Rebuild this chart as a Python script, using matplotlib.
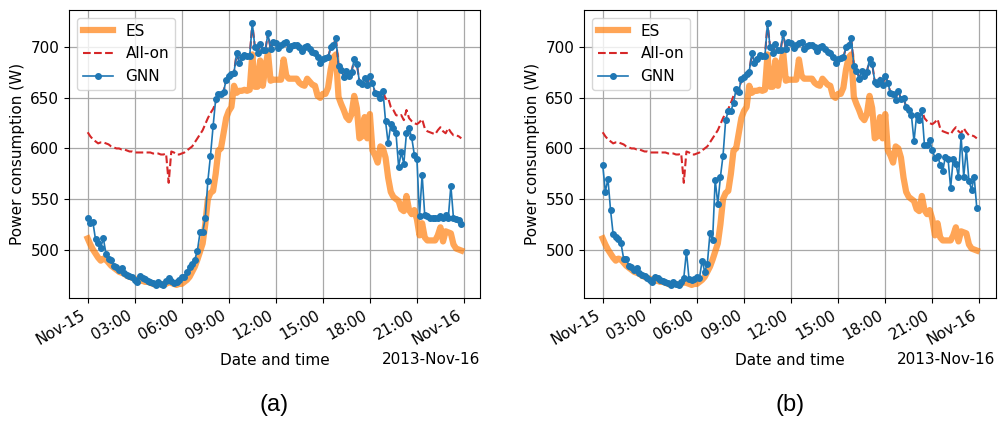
import numpy as np
import pandas as pd
import matplotlib
matplotlib.use('Agg')
import matplotlib.pyplot as plt
import matplotlib.dates as mdates

plt.rcParams['font.size'] = 11

# 10 minute samples over one day
times = pd.date_range('2013-11-15 00:00', periods=144, freq='10min')

#-----------------------------------
# ES (same in both panels)
#-----------------------------------
es = [511, 505, 500, 496, 492, 489, 491, 490, 487, 484, 482, 480,
      478, 477, 476, 474, 473, 472, 471, 470, 469, 469, 468, 468,
      467, 466, 465, 466, 466, 465, 466, 468, 467, 466, 465, 466,
      466, 468, 470, 473, 478, 483, 490, 498, 506, 525, 550, 556,
      558, 575, 598, 600, 615, 630, 637, 641, 662, 655, 657, 657,
      658, 657, 658, 693, 661, 661, 687, 662, 680, 695, 667, 668,
      668, 668, 668, 688, 672, 669, 669, 669, 669, 665, 663, 662,
      669, 666, 663, 662, 652, 650, 654, 654, 660, 678, 690, 693,
      651, 644, 638, 631, 628, 634, 652, 640, 610, 612, 631, 610,
      634, 598, 593, 586, 602, 600, 591, 571, 557, 552, 550, 548,
      540, 538, 553, 539, 535, 539, 530, 514, 526, 512, 509, 509,
      509, 509, 514, 522, 508, 518, 517, 516, 505, 501, 500, 499]

#-----------------------------------
# All-on (same in both panels)
#-----------------------------------
all_on = [616, 612, 609, 607, 605, 606, 606, 605, 604, 602, 601, 600,
          600, 599, 599, 598, 597, 597, 596, 596, 596, 596, 596, 596,
          596, 595, 595, 595, 594, 594, 595, 566, 597, 596, 594, 594,
          595, 596, 598, 600, 602, 606, 610, 614, 618, 624, 630, 635,
          639, 645, 652, 654, 656, 668, 672, 674, 675, 694, 685, 690,
          692, 691, 691, 724, 700, 694, 703, 697, 697, 714, 698, 705,
          704, 699, 702, 704, 705, 698, 701, 702, 702, 700, 696, 700,
          701, 698, 695, 694, 690, 685, 688, 689, 690, 700, 702, 709,
          682, 678, 671, 677, 672, 676, 688, 684, 666, 664, 670, 663,
          672, 665, 655, 654, 650, 657, 649, 650, 641, 638, 633, 632,
          633, 628, 638, 630, 627, 625, 624, 626, 629, 620, 617, 616,
          615, 614, 618, 621, 617, 615, 620, 616, 613, 613, 612, 610]

#-----------------------------------
# GNN, panel (a)
#-----------------------------------
gnn_a = [531, 526, 527, 510, 506, 502, 511, 496, 491, 490, 484, 483,
         480, 482, 477, 475, 474, 473, 470, 468, 474, 472, 471, 469,
         468, 467, 465, 468, 466, 465, 469, 472, 469, 467, 468, 470,
         473, 473, 478, 483, 486, 490, 499, 517, 517, 531, 568, 593,
         622, 649, 654, 654, 656, 668, 672, 674, 675, 694, 685, 690,
         692, 691, 691, 724, 700, 694, 703, 697, 697, 714, 698, 705,
         704, 699, 702, 704, 705, 698, 701, 702, 702, 700, 696, 700,
         701, 698, 695, 694, 690, 685, 688, 689, 690, 700, 702, 709,
         682, 678, 671, 677, 672, 676, 688, 684, 666, 664, 670, 663,
         672, 665, 655, 654, 650, 657, 627, 605, 624, 620, 615, 582,
         596, 585, 615, 620, 611, 594, 590, 533, 574, 534, 533, 531,
         531, 531, 531, 533, 531, 534, 531, 563, 531, 530, 529, 525]

#-----------------------------------
# GNN, panel (b)
#-----------------------------------
gnn_b = [584, 557, 570, 539, 515, 512, 510, 506, 491, 491, 484, 483,
         480, 482, 477, 475, 474, 472, 470, 468, 473, 472, 470, 469,
         468, 467, 465, 468, 466, 465, 468, 472, 498, 471, 470, 471,
         473, 472, 489, 478, 486, 516, 509, 569, 545, 572, 593, 628,
         637, 637, 645, 659, 656, 669, 671, 674, 676, 694, 685, 688,
         692, 691, 691, 724, 700, 694, 703, 697, 697, 714, 698, 705,
         704, 699, 702, 704, 705, 698, 701, 702, 702, 700, 696, 700,
         701, 698, 695, 694, 690, 685, 688, 689, 690, 700, 702, 709,
         682, 677, 669, 677, 672, 676, 688, 684, 666, 664, 668, 663,
         672, 665, 655, 654, 648, 657, 649, 650, 641, 638, 633, 607,
         633, 628, 638, 603, 603, 608, 598, 591, 593, 584, 578, 592,
         590, 561, 590, 585, 572, 612, 572, 599, 568, 559, 572, 541]

panel_labels = ['(a)', '(b)']

# --------------------------------
# Drawing
# --------------------------------
fig = plt.figure(figsize=(9.99, 4.22), dpi=100)
ax_a = fig.add_axes([69/999, 124/422, 411/999, 288/422])
ax_b = fig.add_axes([584/999, 124/422, 411.5/999, 288/422])

for ax, gnn, lab in zip([ax_a, ax_b], [gnn_a, gnn_b], panel_labels):
    ax.plot(times, es, '-', color='tab:orange', alpha=0.7, lw=4.5, label='ES')
    ax.plot(times, all_on, '--', color='tab:red', lw=1.5, label='All-on')
    ax.plot(times, gnn, '-o', color='tab:blue', lw=1.2, ms=4, label='GNN')

    loc = mdates.HourLocator(byhour=range(0, 24, 3))
    ax.xaxis.set_major_locator(loc)
    ax.xaxis.set_major_formatter(mdates.ConciseDateFormatter(loc))
    for t in ax.get_xticklabels():
        t.set_rotation(30)
        t.set_ha('right')

    ax.grid(True, color='#a8a8a8', lw=0.9)
    ax.legend(loc='upper left')
    ax.set_xlabel('Date and time')
    ax.set_ylabel('Power consumption (W)')

    pos = ax.get_position()
    fig.text(pos.x0 + pos.width/2, 1 - 405/422, lab, ha='center', va='center',
             fontsize=17, family='Liberation Sans')

plt.savefig('out.png', dpi=100)
